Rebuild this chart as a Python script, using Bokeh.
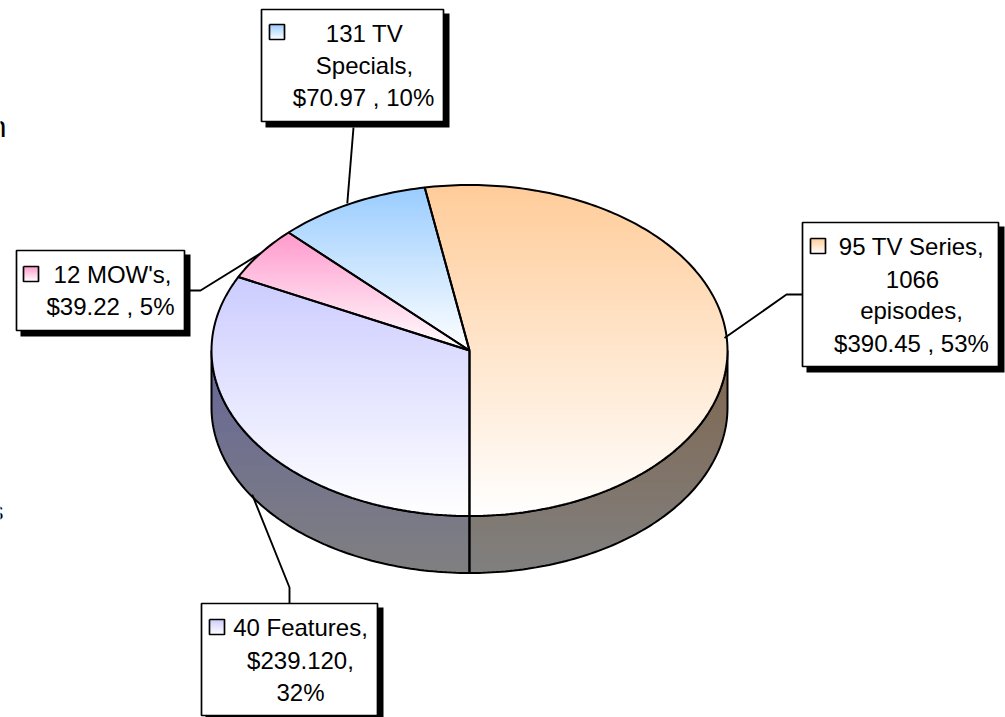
import math
from bokeh.plotting import figure
from bokeh.models import Range1d
from bokeh.core.properties import value
from bokeh.embed import file_html
from bokeh.resources import INLINE

# ---- data ----
categories = ["95 TV Series", "40 Features", "12 MOW's", "131 TV Specials"]
revenues = [390.45, 239.12, 39.22, 70.97]
label_lines = [
    ["95 TV Series,", "1066", "episodes,", "$390.45 , 53%"],
    ["40 Features,", "$239.120,", "32%"],
    ["12 MOW's,", "$39.22 , 5%"],
    ["131 TV", "Specials,", "$70.97 , 10%"],
]

# ---- style / layout ----
top_colors = [(255, 204, 153), (204, 204, 255), (255, 153, 204), (153, 204, 255)]
side_colors = [(128, 102, 77), (102, 102, 153)]
side_end = (128, 128, 128)
cx, cy, rx, ry, depth = 469, 350, 258, 165.5, 57
start_deg = -10.0
boxes = [(802, 222, 998, 366), (201, 603, 377, 715), (16, 250, 184, 330), (261, 9, 443, 121)]
keys = [(810, 238), (209, 619), (23, 266), (269, 24)]
text_pos = [
    [(911, 246), (912, 279), (911, 310), (911, 343)],
    [(300, 627), (300, 660), (300, 692)],
    [(112, 274), (110, 306)],
    [(364, 33), (364, 65), (363, 97)],
]
leaders = [
    [(802, 294), (786, 294)],
    [(289, 603), (289, 587)],
    [(184, 290), (200, 290)],
    [(353, 127)],
]
leader_tip_dx = [-2, 2, 0, -4]
leader_tip_dy = [2, depth, 0, 0]
SHADOW = 5

p = figure(width=1005, height=717, output_backend="svg", toolbar_location=None,
           x_range=Range1d(0, 1005), y_range=Range1d(717, 0), min_border=0,
           outline_line_color=None, background_fill_color="white")
p.axis.visible = False
p.grid.visible = False
p.xaxis.visible = False
p.yaxis.visible = False


def pt(deg, dy=0.0):
    r = math.radians(deg)
    return cx + rx * math.sin(r), cy - ry * math.cos(r) + dy


def arc(a0, a1, dy=0.0):
    n = max(2, int(abs(a1 - a0)) + 1)
    return [pt(a0 + (a1 - a0) * i / (n - 1), dy) for i in range(n)]


def clip_half(poly, y0, keep_below):
    out = []
    for i in range(len(poly)):
        a, b = poly[i], poly[(i + 1) % len(poly)]
        ina = a[1] >= y0 if keep_below else a[1] <= y0
        inb = b[1] >= y0 if keep_below else b[1] <= y0
        if ina:
            out.append(a)
        if ina != inb:
            t = (y0 - a[1]) / (b[1] - a[1])
            out.append((a[0] + (b[0] - a[0]) * t, y0))
    return out


def hexcol(c):
    return "#%02x%02x%02x" % tuple(int(round(v)) for v in c)


def gradient(poly, c0, c1, y_start=None, y_end=None, step=2):
    ys = [q[1] for q in poly]
    ya, yb = min(ys), max(ys)
    g0 = ya if y_start is None else y_start
    g1 = yb if y_end is None else y_end
    xs_all, ys_all, cols = [], [], []
    y = ya
    while y < yb:
        band = clip_half(poly, y, True)
        if band:
            band = clip_half(band, min(y + step + 0.7, yb), False)
        if len(band) >= 3:
            t = max(0, min(1, (y + step / 2 - g0) / (g1 - g0)))
            xs_all.append([q[0] for q in band])
            ys_all.append([q[1] for q in band])
            cols.append(hexcol([c0[k] + (c1[k] - c0[k]) * t for k in range(3)]))
        y += step
    p.patches(xs_all, ys_all, fill_color=cols, line_color=None)


def outline(poly, width=2.0):
    xs = [q[0] for q in poly] + [poly[0][0]]
    ys = [q[1] for q in poly] + [poly[0][1]]
    p.line(xs, ys, line_color="black", line_width=width)


# angular extents from the values
total = sum(revenues)
angles = [start_deg]
for v in revenues:
    angles.append(angles[-1] + v / total * 360)

# side walls (visible front half only)
bottom_angle = angles[1]
right_side = arc(90, bottom_angle) + arc(bottom_angle, 90, depth)
left_side = arc(bottom_angle, 270) + arc(270, bottom_angle, depth)
gradient(right_side, side_colors[0], side_end, y_start=cy, y_end=cy + ry + depth)
gradient(left_side, side_colors[1], side_end, y_start=cy, y_end=cy + ry + depth)
outline(right_side)
outline(left_side)

# top faces
wedges = []
for i in range(len(revenues)):
    poly = [(cx, cy)] + arc(angles[i], angles[i + 1])
    wedges.append(poly)
    gradient(poly, top_colors[i], (255, 255, 255))
for poly in wedges:
    outline(poly)

# leader lines, tip placed at each slice's mid angle
for i in range(len(revenues)):
    mid = (angles[i] + angles[i + 1]) / 2
    tx, ty = pt(mid, leader_tip_dy[i])
    path = leaders[i] + [(tx + leader_tip_dx[i], ty)]
    p.line([q[0] for q in path], [q[1] for q in path], line_color="black", line_width=1.9)

# label boxes with hard shadow
for i, (x0, y0, x1, y1) in enumerate(boxes):
    p.quad(left=[x0 + 4], right=[x1 + SHADOW + 1], top=[y0 + 4], bottom=[y1 + SHADOW + 1],
           fill_color="black", line_color=None)
    p.quad(left=[x0], right=[x1], top=[y0], bottom=[y1],
           fill_color="white", line_color="black", line_width=1.7)
    kx, ky = keys[i]
    key_poly = [(kx, ky), (kx + 15, ky), (kx + 15, ky + 15), (kx, ky + 15)]
    gradient(key_poly, top_colors[i], (255, 255, 255), step=1)
    outline(key_poly, 1.7)
    for line, (tx, ty) in zip(label_lines[i], text_pos[i]):
        p.text([tx], [ty], text=[line], text_font=value("Liberation Sans"), text_font_size="24px",
               text_align="center", text_baseline="middle", text_color="#000000")

# fragments of cropped text at the left edge of the picture
p.text([6], [126], text=["n"], text_font=value("Liberation Sans"), text_font_size="30px",
       text_align="right", text_baseline="alphabetic", text_color="#000000")
p.text([3], [510], text=["s"], text_font=value("Liberation Sans"), text_font_size="26px",
       text_align="right", text_baseline="alphabetic", text_color="#000000")

open("out.html", "w").write(file_html(p, INLINE))
